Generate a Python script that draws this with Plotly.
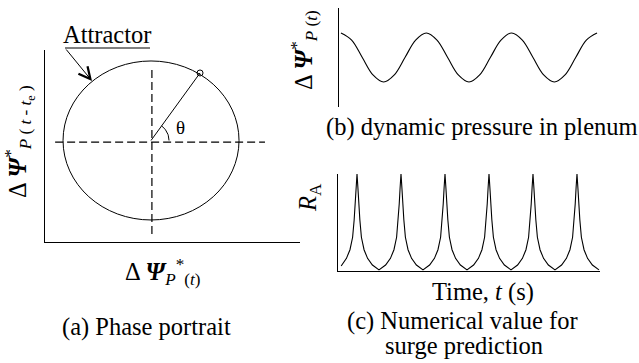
import numpy as np
import plotly.graph_objects as go

W, H = 639, 363

# (b) dynamic pressure in plenum, read at every 1/8 period
t_b = [0, 0.125, 0.25, 0.375, 0.5, 0.625, 0.75, 0.875,
       1, 1.125, 1.25, 1.375, 1.5, 1.625, 1.75, 1.875,
       2, 2.125, 2.25, 2.375, 2.5, 2.625, 2.75, 2.875, 3]
dp_b = [1, 0.71, 0, -0.71, -1, -0.71, 0, 0.71,
        1, 0.71, 0, -0.71, -1, -0.71, 0, 0.71,
        1, 0.71, 0, -0.71, -1, -0.71, 0, 0.71, 1]

# (c) numerical value R_A
t_c = [0.64, 0.76, 0.84, 0.90, 0.935, 0.96, 0.98, 1.00, 1.02, 1.04, 1.065, 1.10, 1.16, 1.24, 1.35,
       1.50, 1.65, 1.76, 1.84, 1.90, 1.935, 1.96, 1.98, 2.00, 2.02, 2.04, 2.065, 2.10, 2.16, 2.24, 2.35,
       2.50, 2.65, 2.76, 2.84, 2.90, 2.935, 2.96, 2.98, 3.00, 3.02, 3.04, 3.065, 3.10, 3.16, 3.24, 3.35,
       3.50, 3.65, 3.76, 3.84, 3.90, 3.935, 3.96, 3.98, 4.00, 4.02, 4.04, 4.065, 4.10, 4.16, 4.24, 4.35,
       4.50, 4.65, 4.76, 4.84, 4.90, 4.935, 4.96, 4.98, 5.00, 5.02, 5.04, 5.065, 5.10, 5.16, 5.24, 5.35,
       5.50, 5.65, 5.76, 5.84, 5.90, 5.935, 5.96, 5.98, 6.00, 6.02, 6.04, 6.065, 6.10, 6.16, 6.24, 6.35,
       6.50]
ra_c = [0.04, 0.12, 0.21, 0.34, 0.52, 0.69, 0.86, 1.00, 0.86, 0.69, 0.52, 0.34, 0.21, 0.12, 0.05,
        0.00, 0.05, 0.12, 0.21, 0.34, 0.52, 0.69, 0.86, 1.00, 0.86, 0.69, 0.52, 0.34, 0.21, 0.12, 0.05,
        0.00, 0.05, 0.12, 0.21, 0.34, 0.52, 0.69, 0.86, 1.00, 0.86, 0.69, 0.52, 0.34, 0.21, 0.12, 0.05,
        0.00, 0.05, 0.12, 0.21, 0.34, 0.52, 0.69, 0.86, 1.00, 0.86, 0.69, 0.52, 0.34, 0.21, 0.12, 0.05,
        0.00, 0.05, 0.12, 0.21, 0.34, 0.52, 0.69, 0.86, 1.00, 0.86, 0.69, 0.52, 0.34, 0.21, 0.12, 0.05,
        0.00, 0.05, 0.12, 0.21, 0.34, 0.52, 0.69, 0.86, 1.00, 0.86, 0.69, 0.52, 0.34, 0.21, 0.12, 0.05,
        0.00]

# (a) phase portrait: attractor point and angle
state_x = [0.557]
state_y = [0.849]
theta_deg = 54


def px(x):
    return x / W


def py(y):
    return 1 - y / H


FONT = "Liberation Serif"
BLACK = "black"

fig = go.Figure()

# --- (a) phase portrait
fig.add_trace(go.Scatter(x=[0, state_x[0]], y=[0, state_y[0]], mode="lines",
                         line=dict(color=BLACK, width=1), xaxis="x", yaxis="y"))
fig.add_trace(go.Scatter(x=state_x, y=state_y, mode="markers",
                         marker=dict(symbol="circle-open", size=6, color=BLACK,
                                     line=dict(width=1)),
                         xaxis="x", yaxis="y"))
a = np.radians(np.linspace(0, theta_deg, 20))
fig.add_trace(go.Scatter(x=18 / 88 * np.cos(a), y=18 / 79.5 * np.sin(a), mode="lines",
                         line=dict(color=BLACK, width=1), xaxis="x", yaxis="y"))

# --- (b)
fig.add_trace(go.Scatter(x=t_b, y=dp_b, mode="lines", line_shape="spline",
                         line=dict(color=BLACK, width=1.1), xaxis="x2", yaxis="y2"))

# --- (c)
fig.add_trace(go.Scatter(x=t_c, y=ra_c, mode="lines",
                         line=dict(color=BLACK, width=1.1), xaxis="x3", yaxis="y3"))

ax_common = dict(showgrid=False, zeroline=False, showticklabels=False, ticks="",
                 showline=True, linecolor=BLACK, linewidth=1.3, fixedrange=True)

shapes = [
    dict(type="circle", xref="x", yref="y", x0=-1, x1=1, y0=-1, y1=1,
         line=dict(color=BLACK, width=1)),
    dict(type="line", xref="x", yref="y", x0=0.01, x1=0.01, y0=0.887, y1=-1.226,
         line=dict(color=BLACK, width=1.2, dash="8px,4px")),
    dict(type="line", xref="x", yref="y", x0=-1.09, x1=1.295, y0=-0.02, y1=-0.02,
         line=dict(color=BLACK, width=1.2, dash="8px,4px")),
    dict(type="line", xref="paper", yref="paper", x0=px(65), x1=px(150), y0=py(48), y1=py(48),
         line=dict(color=BLACK, width=1)),
]


def label(text, x, y, size=24.5, angle=0):
    return dict(text=text, x=px(x), y=py(y), xref="paper", yref="paper",
                xanchor="center", yanchor="middle", showarrow=False, textangle=angle,
                font=dict(family=FONT, size=size, color=BLACK))


annotations = [
    label("Attractor", 107, 34),
    dict(text="", x=px(92), y=py(81), xref="paper", yref="paper", ax=-27, ay=-33,
         showarrow=True, arrowhead=5, arrowsize=2.3, arrowwidth=1, arrowcolor=BLACK),
    dict(text="θ", x=0.33, y=0.16, xref="x", yref="y", showarrow=False,
         font=dict(family=FONT, size=19, color=BLACK)),
    label("Δ <b><i>Ψ</i></b><sup>*</sup><sub><i>P</i> ( <i>t</i> - <i>t</i><sub>e</sub> )</sub>",
          20, 142, angle=-90),
    label("Δ <b><i>Ψ</i></b><sub><i>P</i></sub><sup>*</sup><sub>(<i>t</i>)</sub>", 162, 272),
    label("(a) Phase portrait", 146, 327),
    label("Δ <b><i>Ψ</i></b><sup>*</sup><sub><i>P</i> (<i>t</i>)</sub>", 304, 50, angle=-90),
    label("(b) dynamic pressure in plenum", 482, 127),
    label("<i>R</i><sub>A</sub>", 310, 198, angle=-90),
    label("Time, <i>t</i> (s)", 483, 292),
    label("(c) Numerical value for", 462, 321),
    label("surge prediction", 464, 345),
]

fig.update_layout(
    width=W, height=H, margin=dict(l=0, r=0, t=0, b=0),
    paper_bgcolor="white", plot_bgcolor="white", showlegend=False,
    xaxis=dict(domain=[px(45), px(300)], range=[-1.205, 1.693], anchor="y", **ax_common),
    yaxis=dict(domain=[py(242), py(50)], range=[-1.277, 1.138], anchor="x", **ax_common),
    xaxis2=dict(domain=[px(339), px(600)], range=[-0.023, 3.035], anchor="y2",
                **{**ax_common, "showline": False}),
    yaxis2=dict(domain=[py(107), py(8)], range=[-2.02, 2.02], anchor="x2", **ax_common),
    xaxis3=dict(domain=[px(338), px(600)], range=[0.568, 6.523], anchor="y3", **ax_common),
    yaxis3=dict(domain=[py(271), py(174)], range=[-0.012, 1.0], anchor="x3", **ax_common),
    shapes=shapes, annotations=annotations,
)

# page body margin would shift the figure by 8px
fig.write_html("out.html", config={"displayModeBar": False},
               post_script="document.body.style.margin='0';")
